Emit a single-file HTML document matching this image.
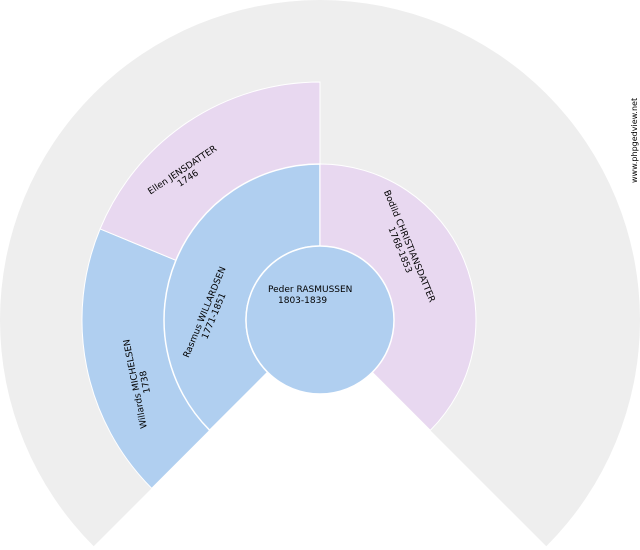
<!DOCTYPE html>
<html><head><style>body{margin:0;background:#fff}svg{display:block}text{font-family:"DejaVu Sans","Liberation Sans",sans-serif;font-size:9px;fill:#000}</style></head>
<body>
<svg width="640" height="550" viewBox="0 0 640 550">
<path d="M320,320 L93.7,546.3 A320,320 0 1 1 546.3,546.3 Z" fill="#eeeeee"/>
<path d="M151.7,488.3 A238,238 0 0 1 100.1,228.9 L175.9,260.3 A156,156 0 0 0 209.7,430.3 Z" fill="#b0cff0" stroke="#fff" stroke-width="1"/>
<path d="M100.1,228.9 A238,238 0 0 1 320,82 L320,164 A156,156 0 0 0 175.9,260.3 Z" fill="#e8d8f0" stroke="#fff" stroke-width="1"/>
<path d="M209.7,430.3 A156,156 0 0 1 320,164 L320,246 A74,74 0 0 0 267.7,372.3 Z" fill="#b0cff0" stroke="#fff" stroke-width="1.5"/>
<path d="M320,164 A156,156 0 0 1 430.3,430.3 L372.3,372.3 A74,74 0 0 0 320,246 Z" fill="#e8d8f0" stroke="#fff" stroke-width="1"/>
<circle cx="320" cy="320" r="74" fill="#b0cff0" stroke="#fff" stroke-width="1.5"/>
<text x="268" y="292">Peder RASMUSSEN</text>
<text x="278" y="303">1803-1839</text>
<g transform="translate(209,314) rotate(-67.5)"><text text-anchor="middle" y="-2">Rasmus WILLARDSEN</text><text text-anchor="middle" y="8">1771-1851</text></g>
<g transform="translate(405,248) rotate(67.5)"><text text-anchor="middle" y="-2">Bodild CHRISTIANSDATTER</text><text text-anchor="middle" y="8">1768-1853</text></g>
<g transform="translate(185,174) rotate(-33.75)"><text text-anchor="middle" y="-2">Ellen JENSDATTER</text><text text-anchor="middle" y="8">1746</text></g>
<g transform="translate(140,383) rotate(-101.25)"><text text-anchor="middle" y="-2">Willards MICHELSEN</text><text text-anchor="middle" y="8">1738</text></g>
<text transform="translate(637,183) rotate(-90)" style="font-size:8px">www.phpgedview.net</text>
</svg>
</body></html>
